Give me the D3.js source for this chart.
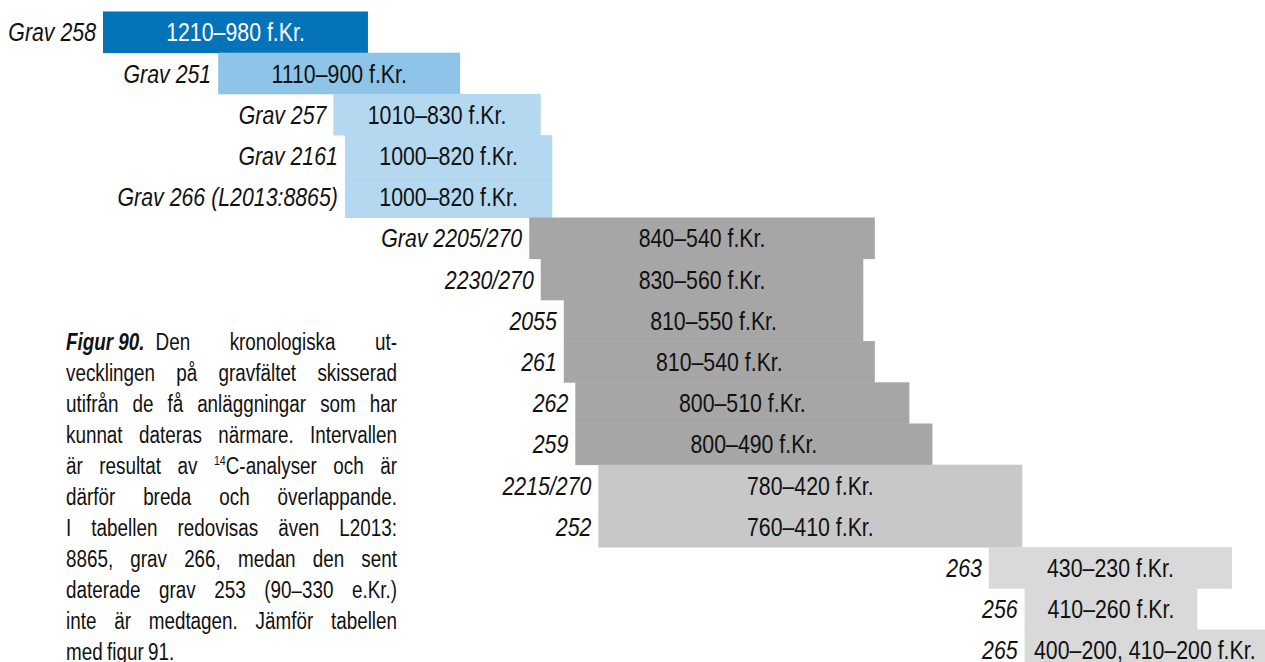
<!DOCTYPE html>
<html>
<head>
<meta charset="utf-8">
<script src="https://cdn.jsdelivr.net/npm/d3@7"></script>
<style>
  html, body { margin: 0; padding: 0; background: #fff; }
  svg { display: block; }
</style>
</head>
<body>
<div id="chart"></div>
<script>
//
// Data: grave names, printed range, drawn bar span (years BC)
//
var graves = ["Grav 258", "Grav 251", "Grav 257", "Grav 2161", "Grav 266 (L2013:8865)",
  "Grav 2205/270", "2230/270", "2055", "261", "262", "259", "2215/270", "252",
  "263", "256", "265"];
var ranges = ["1210–980 f.Kr.", "1110–900 f.Kr.", "1010–830 f.Kr.", "1000–820 f.Kr.",
  "1000–820 f.Kr.", "840–540 f.Kr.", "830–560 f.Kr.", "810–550 f.Kr.", "810–540 f.Kr.",
  "800–510 f.Kr.", "800–490 f.Kr.", "780–420 f.Kr.", "760–410 f.Kr.", "430–230 f.Kr.",
  "410–260 f.Kr.", "400–200, 410–200 f.Kr."];
var barFrom = [1210, 1110, 1010, 1000, 1000, 840, 830, 810, 810, 800, 800, 780, 780, 441, 410, 410];
var barTo   = [980, 900, 830, 820, 820, 540, 550, 550, 540, 510, 490, 412, 412, 230, 260, 200];
var groups  = ["b1", "b2", "b3", "b3", "b3", "g1", "g1", "g1", "g1", "g1", "g1",
  "g2", "g2", "g3", "g3", "g3"];

var captionLines = [
  "Figur 90.|Den kronologiska ut-",
  "vecklingen på gravfältet skisserad",
  "utifrån de få anläggningar som har",
  "kunnat dateras närmare. Intervallen",
  "är resultat av ^14C-analyser och är",
  "därför breda och överlappande.",
  "I tabellen redovisas även L2013:",
  "8865, grav 266, medan den sent",
  "daterade grav 253 (90–330 e.Kr.)",
  "inte är medtagen. Jämför tabellen",
  "med figur 91."
];

var width = 1265, height = 662;

// is the narrow face installed? otherwise squeeze Liberation Sans
function hasFont(name) {
  var c = document.createElement("canvas").getContext("2d");
  var s = "abcdefghijklmnopqrstuvwxyz0123456789";
  c.font = "40px monospace";
  var w1 = c.measureText(s).width;
  c.font = "40px \"" + name + "\", monospace";
  return c.measureText(s).width !== w1;
}
var narrow = hasFont("Liberation Sans Narrow");
var family = narrow ? "'Liberation Sans Narrow', 'Arial Narrow', sans-serif" : "'Liberation Sans', Arial, sans-serif";
var sx = narrow ? 1 : 0.82;

var svg = d3.select("#chart").append("svg")
  .attr("width", width)
  .attr("height", height)
  .style("font-family", family);

//
// scales
//
var x = d3.scaleLinear().domain([1210, 200]).range([103, 1266.5]);
var y = d3.scaleBand().domain(d3.range(graves.length)).range([11.5, 11.5 + 41.2 * graves.length]);
var color = d3.scaleOrdinal()
  .domain(["b1", "b2", "b3", "g1", "g2", "g3"])
  .range(["#0473b9", "#8dc4e8", "#b3d8ef", "#a6a6a6", "#c8c8c8", "#d9d9d9"]);

var rows = svg.selectAll("g.row")
  .data(graves.map(function(d, i) { return i; }))
  .enter().append("g")
  .attr("class", "row");

rows.append("rect")
  .attr("x", function(i) { return x(barFrom[i]); })
  .attr("y", function(i) { return y(i); })
  .attr("width", function(i) { return x(barTo[i]) - x(barFrom[i]); })
  .attr("height", y.bandwidth() + 0.4)
  .attr("fill", function(i) { return color(groups[i]); });

// grave name, italic, right aligned against the bar
rows.append("text")
  .attr("transform", function(i) {
    return "translate(" + (x(barFrom[i]) - 7) + "," + (y(i) + y.bandwidth() / 2 + 9.3) + ") scale(" + sx + ",1)";
  })
  .attr("text-anchor", "end")
  .style("font-size", "26px")
  .style("font-style", "italic")
  .attr("fill", "#111")
  .text(function(i) { return graves[i]; });

// dating inside the bar
rows.append("text")
  .attr("transform", function(i) {
    var cx = (x(barFrom[i]) + Math.min(x(barTo[i]), width)) / 2;
    return "translate(" + cx + "," + (y(i) + y.bandwidth() / 2 + 9.3) + ") scale(" + sx + ",1)";
  })
  .attr("text-anchor", "middle")
  .style("font-size", "26px")
  .attr("fill", function(i) { return groups[i] === "b1" ? "#fff" : "#111"; })
  .text(function(i) { return ranges[i]; });

//
// caption, justified block
//
var capLeft = 66, capRight = 397, capTop = 350, capStep = 31, capSize = 23;
var cap = svg.append("g")
  .attr("transform", "translate(" + capLeft + ",0) scale(" + sx + ",1)")
  .style("font-size", capSize + "px")
  .attr("fill", "#111");
var lineWidth = (capRight - capLeft) / sx;

captionLines.forEach(function(line, li) {
  var tokens = [];
  var parts = line.split("|");
  if (parts.length > 1) {
    tokens.push({ text: parts[0], bold: true });
    line = parts[1];
  }
  line.split(" ").forEach(function(w) { tokens.push({ text: w }); });

  var by = capTop + li * capStep;
  var nodes = tokens.map(function(tk) {
    var t = cap.append("text").attr("y", by);
    if (tk.bold) {
      t.style("font-weight", "bold").style("font-style", "italic").text(tk.text);
    } else if (tk.text.charAt(0) === "^") {
      t.append("tspan").style("font-size", "13px").attr("dy", -9).text(tk.text.substr(1, 2));
      t.append("tspan").attr("dy", 9).text(tk.text.substr(3));
    } else {
      t.text(tk.text);
    }
    return t;
  });
  var widths = nodes.map(function(t) { return t.node().getComputedTextLength(); });
  var total = d3.sum(widths);
  var last = li === captionLines.length - 1;
  // the bold lead-in keeps a plain space; the other gaps take the slack
  var lead = tokens[0].bold ? 11 / sx : 0;
  var nGaps = nodes.length - 1 - (lead ? 1 : 0);
  var gap = last ? capSize * 0.23 : (lineWidth - total - lead) / nGaps;
  var pos = 0;
  nodes.forEach(function(t, k) {
    t.attr("x", pos);
    pos += widths[k] + (k === 0 && lead ? lead : gap);
  });
});
</script>
</body>
</html>
